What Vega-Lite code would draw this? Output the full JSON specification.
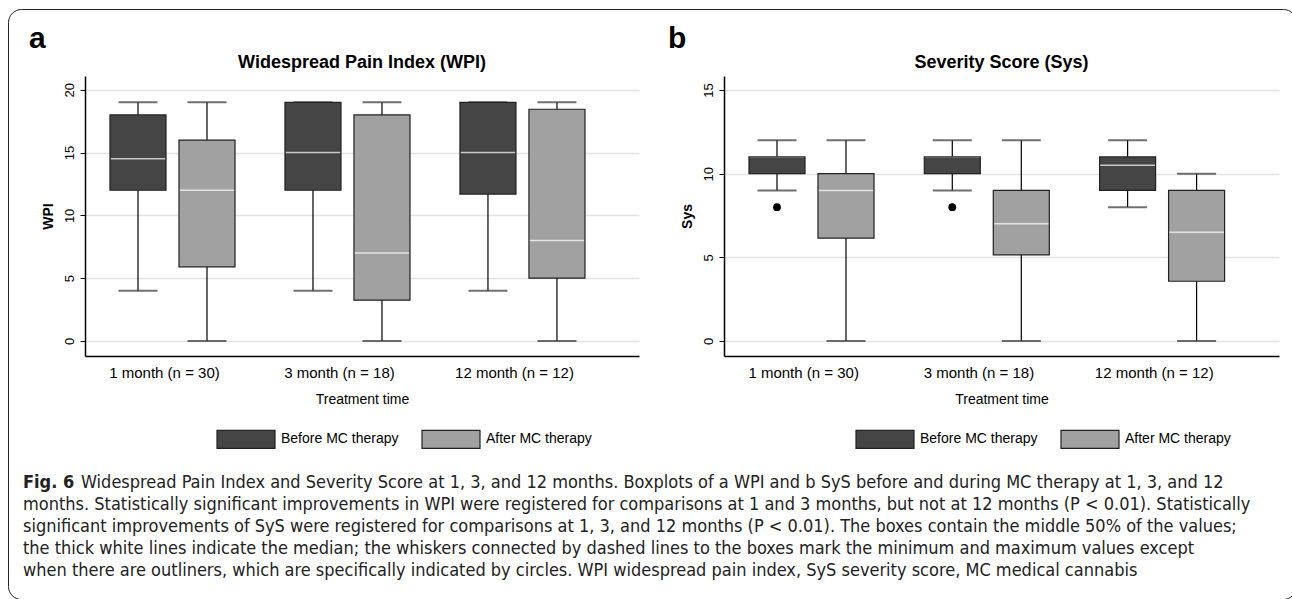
{
  "$schema": "https://vega.github.io/schema/vega-lite/v6.json",
  "background": "white",
  "padding": {"left": 7, "top": 8, "right": 0, "bottom": 0},
  "datasets": {
    "wpi": [
      {"time": "1 month (n = 30)", "group": "Before MC therapy", "min": 4, "q1": 12, "median": 14.5, "q3": 18, "max": 19},
      {"time": "1 month (n = 30)", "group": "After MC therapy", "min": 0, "q1": 5.9, "median": 12, "q3": 16, "max": 19},
      {"time": "3 month (n = 18)", "group": "Before MC therapy", "min": 4, "q1": 12, "median": 15, "q3": 19, "max": 19},
      {"time": "3 month (n = 18)", "group": "After MC therapy", "min": 0, "q1": 3.25, "median": 7, "q3": 18, "max": 19},
      {"time": "12 month (n = 12)", "group": "Before MC therapy", "min": 4, "q1": 11.7, "median": 15, "q3": 19, "max": 19},
      {"time": "12 month (n = 12)", "group": "After MC therapy", "min": 0, "q1": 5, "median": 8, "q3": 18.45, "max": 19}
    ],
    "sys": [
      {"time": "1 month (n = 30)", "group": "Before MC therapy", "min": 9, "q1": 10, "median": 11, "q3": 11, "max": 12},
      {"time": "1 month (n = 30)", "group": "After MC therapy", "min": 0, "q1": 6.15, "median": 9, "q3": 10, "max": 12},
      {"time": "3 month (n = 18)", "group": "Before MC therapy", "min": 9, "q1": 10, "median": 11, "q3": 11, "max": 12},
      {"time": "3 month (n = 18)", "group": "After MC therapy", "min": 0, "q1": 5.15, "median": 7, "q3": 9, "max": 12},
      {"time": "12 month (n = 12)", "group": "Before MC therapy", "min": 8, "q1": 9, "median": 10.5, "q3": 11, "max": 12},
      {"time": "12 month (n = 12)", "group": "After MC therapy", "min": 0, "q1": 3.57, "median": 6.5, "q3": 9, "max": 10}
    ],
    "sysOut": [
      {"time": "1 month (n = 30)", "group": "Before MC therapy", "value": 8},
      {"time": "3 month (n = 18)", "group": "Before MC therapy", "value": 8}
    ]
  },
  "config": {
    "view": {"stroke": null},
    "font": "Liberation Sans",
    "axis": {"labelFont": "Liberation Sans", "titleFont": "Liberation Sans", "labelColor": "#000", "titleColor": "#000"},
    "legend": {"labelFont": "Liberation Sans", "labelColor": "#000"},
    "title": {"font": "Liberation Sans", "color": "#000"}
  },
  "bounds": "flush",
  "spacing": 407,
  "vconcat": [
    {
      "hconcat": [
        {
          "title": {"text": "a", "anchor": "start", "fontSize": 30, "fontWeight": "bold", "offset": 0, "dx": -12},
          "vconcat": [
            {
              "width": 554, "height": 280,
              "title": {"text": "Widespread Pain Index (WPI)", "fontSize": 18, "fontWeight": "bold", "anchor": "middle", "frame": "group", "offset": 4},
              "data": {"name": "wpi"},
              "encoding": {
                "x": {"field": "time", "type": "nominal", "sort": ["1 month (n = 30)", "3 month (n = 18)", "12 month (n = 12)"],
                      "scale": {"paddingInner": 0, "paddingOuter": 0.083, "align": 0},
                      "title": "Treatment time",
                      "axis": {"labelAngle": 0, "ticks": false, "domainColor": "#000", "domainWidth": 1.5, "labelFontSize": 15, "labelPadding": 9, "labelOffset": -8, "titleFontSize": 14, "titleFontWeight": "normal", "titlePadding": 12, "grid": false}},
                "xOffset": {"field": "group", "type": "nominal", "sort": ["Before MC therapy", "After MC therapy"], "scale": {"paddingInner": 0.188, "paddingOuter": 0.362}}
              },
              "layer": [
                {"mark": {"type": "rule", "color": "#000", "strokeWidth": 1.2},
                 "encoding": {"y": {"field": "min", "type": "quantitative", "title": "WPI",
                                    "scale": {"domain": [-1.2, 21.1], "nice": false, "zero": false},
                                    "axis": {"values": [0, 5, 10, 15, 20], "grid": true, "gridColor": "#e2e2e2", "gridWidth": 1.5, "domainColor": "#000", "domainWidth": 1.5, "tickColor": "#000", "tickSize": 5, "labelAngle": -90, "labelAlign": "center", "labelBaseline": "bottom", "labelFontSize": 13, "labelPadding": 4, "titleFontSize": 14, "titleFontWeight": "bold", "titlePadding": 8}},
                              "y2": {"field": "max"}}},
                {"mark": {"type": "tick", "color": "#333", "size": 39, "thickness": 2},
                 "encoding": {"y": {"field": "min", "type": "quantitative", "title": "WPI"}}},
                {"mark": {"type": "tick", "color": "#333", "size": 39, "thickness": 2},
                 "encoding": {"y": {"field": "max", "type": "quantitative", "title": "WPI"}}},
                {"mark": {"type": "bar", "opacity": 1},
                 "encoding": {"y": {"field": "q1", "type": "quantitative", "title": "WPI"}, "y2": {"field": "q3"},
                              "color": {"field": "group", "type": "nominal",
                                        "scale": {"domain": ["Before MC therapy", "After MC therapy"], "range": ["#454545", "#a1a1a1"]},
                                        "legend": {"orient": "none", "legendX": 131, "legendY": 333, "direction": "horizontal", "title": null, "padding": 0, "symbolType": "M-1,-0.31H1V0.31H-1Z", "symbolSize": 3364, "symbolStrokeColor": "#222", "symbolStrokeWidth": 1.2, "symbolOpacity": 1, "labelFontSize": 14, "columnPadding": 20, "labelOffset": 5}}}},
                {"mark": {"type": "tick", "color": "#fff", "size": 55, "thickness": 1.5},
                 "encoding": {"y": {"field": "median", "type": "quantitative", "title": "WPI"}}},
                {"mark": {"type": "bar", "fillOpacity": 0, "stroke": "#222", "strokeWidth": 1.2},
                 "encoding": {"y": {"field": "q1", "type": "quantitative", "title": "WPI"}, "y2": {"field": "q3"}}}
              ]
            }
          ]
        },
        {
          "title": {"text": "b", "anchor": "start", "fontSize": 30, "fontWeight": "bold", "offset": 0, "dx": -12},
          "vconcat": [
            {
              "width": 555, "height": 280,
              "title": {"text": "Severity Score (Sys)", "fontSize": 18, "fontWeight": "bold", "anchor": "middle", "frame": "group", "offset": 4},
              "encoding": {
                "x": {"field": "time", "type": "nominal", "sort": ["1 month (n = 30)", "3 month (n = 18)", "12 month (n = 12)"],
                      "scale": {"paddingInner": 0, "paddingOuter": 0.083, "align": 0},
                      "title": "Treatment time",
                      "axis": {"labelAngle": 0, "ticks": false, "domainColor": "#000", "domainWidth": 1.5, "labelFontSize": 15, "labelPadding": 9, "labelOffset": -8, "titleFontSize": 14, "titleFontWeight": "normal", "titlePadding": 12, "grid": false}},
                "xOffset": {"field": "group", "type": "nominal", "sort": ["Before MC therapy", "After MC therapy"], "scale": {"paddingInner": 0.188, "paddingOuter": 0.362}}
              },
              "layer": [
                {"data": {"name": "sys"},
                 "mark": {"type": "rule", "color": "#000", "strokeWidth": 1.2},
                 "encoding": {"y": {"field": "min", "type": "quantitative", "title": "Sys",
                                    "scale": {"domain": [-0.9, 15.84], "nice": false, "zero": false},
                                    "axis": {"values": [0, 5, 10, 15], "grid": true, "gridColor": "#e2e2e2", "gridWidth": 1.5, "domainColor": "#000", "domainWidth": 1.5, "tickColor": "#000", "tickSize": 5, "labelAngle": -90, "labelAlign": "center", "labelBaseline": "bottom", "labelFontSize": 13, "labelPadding": 4, "titleFontSize": 14, "titleFontWeight": "bold", "titlePadding": 8}},
                              "y2": {"field": "max"}}},
                {"data": {"name": "sys"},
                 "mark": {"type": "tick", "color": "#333", "size": 39, "thickness": 2},
                 "encoding": {"y": {"field": "min", "type": "quantitative", "title": "Sys"}}},
                {"data": {"name": "sys"},
                 "mark": {"type": "tick", "color": "#333", "size": 39, "thickness": 2},
                 "encoding": {"y": {"field": "max", "type": "quantitative", "title": "Sys"}}},
                {"data": {"name": "sys"},
                 "mark": {"type": "bar", "opacity": 1},
                 "encoding": {"y": {"field": "q1", "type": "quantitative", "title": "Sys"}, "y2": {"field": "q3"},
                              "color": {"field": "group", "type": "nominal",
                                        "scale": {"domain": ["Before MC therapy", "After MC therapy"], "range": ["#454545", "#a1a1a1"]},
                                        "legend": {"orient": "none", "legendX": 131, "legendY": 333, "direction": "horizontal", "title": null, "padding": 0, "symbolType": "M-1,-0.31H1V0.31H-1Z", "symbolSize": 3364, "symbolStrokeColor": "#222", "symbolStrokeWidth": 1.2, "symbolOpacity": 1, "labelFontSize": 14, "columnPadding": 20, "labelOffset": 5}}}},
                {"data": {"name": "sys"},
                 "mark": {"type": "tick", "color": "#fff", "size": 55, "thickness": 1.5},
                 "encoding": {"y": {"field": "median", "type": "quantitative", "title": "Sys"}}},
                {"data": {"name": "sys"},
                 "mark": {"type": "bar", "fillOpacity": 0, "stroke": "#222", "strokeWidth": 1.2},
                 "encoding": {"y": {"field": "q1", "type": "quantitative", "title": "Sys"}, "y2": {"field": "q3"}}},
                {"data": {"name": "sysOut"},
                 "mark": {"type": "circle", "color": "#000", "size": 60, "opacity": 1},
                 "encoding": {"y": {"field": "value", "type": "quantitative", "title": "Sys"}}}
              ]
            }
          ]
        }
      ],
      "spacing": 29,
      "resolve": {"scale": {"color": "independent"}}
    },
    {
      "width": 1250, "height": 88,
      "layer": [
        {"data": {"values": [{"line": 1, "text": "Fig. 6"}]},
         "mark": {"type": "text", "align": "left", "baseline": "middle", "font": "DejaVu Sans Condensed, Liberation Sans", "fontSize": 18, "fontWeight": "bold", "color": "#222", "dx": -62},
         "encoding": {"text": {"field": "text"}, "x": {"value": 0}, "y": {"field": "line", "type": "ordinal", "axis": null, "scale": {"domain": [1, 2, 3, 4, 5], "padding": 0}}}},
        {"data": {"values": [{"line": 1, "text": "Widespread Pain Index and Severity Score at 1, 3, and 12 months. Boxplots of a WPI and b SyS before and during MC therapy at 1, 3, and 12"}]},
         "mark": {"type": "text", "align": "left", "baseline": "middle", "font": "DejaVu Sans Condensed, Liberation Sans", "fontSize": 18, "color": "#222", "dx": -4},
         "encoding": {"text": {"field": "text"}, "x": {"value": 0}, "y": {"field": "line", "type": "ordinal", "axis": null}}},
        {"data": {"values": [
            {"line": 2, "text": "months. Statistically significant improvements in WPI were registered for comparisons at 1 and 3 months, but not at 12 months (P < 0.01). Statistically"},
            {"line": 3, "text": "significant improvements of SyS were registered for comparisons at 1, 3, and 12 months (P < 0.01). The boxes contain the middle 50% of the values;"},
            {"line": 4, "text": "the thick white lines indicate the median; the whiskers connected by dashed lines to the boxes mark the minimum and maximum values except"},
            {"line": 5, "text": "when there are outliners, which are specifically indicated by circles. WPI widespread pain index, SyS severity score, MC medical cannabis"}
          ]},
         "mark": {"type": "text", "align": "left", "baseline": "middle", "font": "DejaVu Sans Condensed, Liberation Sans", "fontSize": 18, "color": "#222", "dx": -62},
         "encoding": {"text": {"field": "text"}, "x": {"value": 0}, "y": {"field": "line", "type": "ordinal", "axis": null}}},
        {"data": {"values": [{"frame": "left"}, {"frame": "right"}]},
         "mark": {"type": "point", "opacity": 0},
         "encoding": {"shape": {"field": "frame", "type": "nominal", "scale": {"range": ["square"]},
                                "legend": {"orient": "none", "legendX": -77, "legendY": -67, "direction": "horizontal", "title": null, "padding": 0, "columnPadding": 106, "symbolSize": 346921, "symbolType": "square", "symbolFillColor": "transparent", "symbolStrokeColor": "transparent", "symbolOpacity": 0, "labelExpr": "''", "labelOffset": 0, "labelFontSize": 1, "strokeColor": "#222", "cornerRadius": 13}}}}
      ]
    }
  ]
}
